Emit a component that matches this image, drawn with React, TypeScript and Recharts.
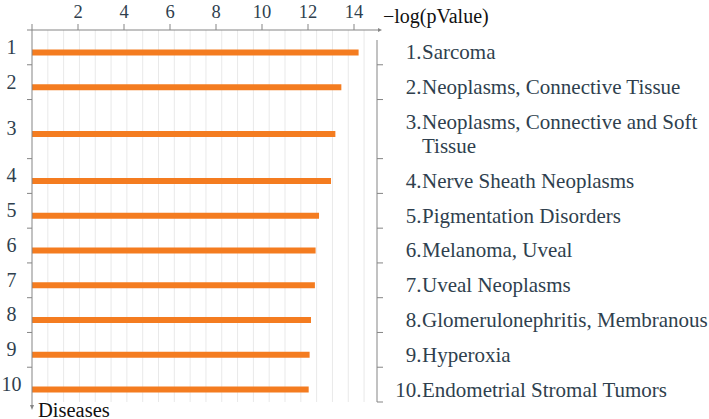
import React from 'react';
import { ComposedChart, Bar, XAxis, YAxis, CartesianGrid } from 'recharts';

// ranks shown on the left, disease names on the right (one entry per text line)
const ranks = ['1', '2', '3', '4', '5', '6', '7', '8', '9', '10'];
const diseaseLines = [
  ['Sarcoma'],
  ['Neoplasms, Connective Tissue'],
  ['Neoplasms, Connective and Soft', 'Tissue'],
  ['Nerve Sheath Neoplasms'],
  ['Pigmentation Disorders'],
  ['Melanoma, Uveal'],
  ['Uveal Neoplasms'],
  ['Glomerulonephritis, Membranous'],
  ['Hyperoxia'],
  ['Endometrial Stromal Tumors'],
];
const negLogP = [14.2, 13.45, 13.19, 13.0, 12.48, 12.33, 12.3, 12.13, 12.07, 12.03];
const xTicks = [0, 2, 4, 6, 8, 10, 12, 14];

const FONT = "'Liberation Serif', 'Times New Roman', 'DejaVu Serif', serif";
const TEXT = '#2f3f4e';
const AXIS = '#858585';
const EXTRA_LINE = 0.7; // a wrapped label adds this much row height

// rows grow when the label on the right wraps
let cum = 0;
const rows = diseaseLines.map((lines, i) => {
  const h = 1 + EXTRA_LINE * (lines.length - 1);
  cum += h;
  return {
    rank: ranks[i],
    lines,
    value: negLogP[i],
    pos: cum - 0.345 - (EXTRA_LINE / 2) * (lines.length - 1),
    end: cum,
  };
});
const total = cum;
const boundaries = rows.map(r => r.end);
const centers = rows.map(r => r.pos);
const yTicks = [...boundaries, ...centers];

const gridValues = Array.from({ length: 21 }, (_, i) => (i + 1) * 0.6875);

const txt = (size: number, color: string) => ({ fontFamily: FONT, fontSize: size, fill: color });

const TopTick = (props: any) => {
  const { x, y, payload } = props;
  if (payload.value === 0) return null;
  return (
    <text x={x} y={y - 6.5} textAnchor="middle" style={txt(18.5, TEXT)}>
      {payload.value}
    </text>
  );
};

const LeftTick = (props: any) => {
  const { x, y, payload } = props;
  const v = payload.value;
  if (boundaries.includes(v)) {
    if (v === total) return null;
    return <line x1={x} y1={y} x2={x + 5} y2={y} stroke={AXIS} strokeWidth={1} />;
  }
  const row = rows.find(r => r.pos === v);
  return (
    <text x={11.5} y={y + 1} textAnchor="middle" style={txt(20, TEXT)}>
      {row?.rank}
    </text>
  );
};

const RightTick = (props: any) => {
  const { x, y, payload } = props;
  const v = payload.value;
  if (boundaries.includes(v)) {
    return <line x1={x - 6} y1={y} x2={x} y2={y} stroke={AXIS} strokeWidth={1} />;
  }
  const row = rows.find(r => r.pos === v);
  if (!row) return null;
  const n = row.lines.length;
  return (
    <g>
      <text x={x + 38.5} y={y + 6.5 - ((n - 1) / 2) * 24} textAnchor="end" style={txt(21, TEXT)}>
        {row.rank + '.'}
      </text>
      {row.lines.map((t, j) => (
        <text key={j} x={x + 39} y={y + 6.5 + (j - (n - 1) / 2) * 24} textAnchor="start" style={txt(21, TEXT)}>
          {t}
        </text>
      ))}
    </g>
  );
};

const XArrow = (props: any) => {
  const { x, y, width, height } = props.viewBox;
  const ay = y + height;
  const end = x + width;
  return (
    <g>
      <line x1={x - 5} y1={ay} x2={x} y2={ay} stroke={AXIS} />
      <line x1={end} y1={ay} x2={end + 1} y2={ay} stroke={AXIS} />
      <polygon points={`${end + 1},${ay - 2} ${end + 5},${ay} ${end + 1},${ay + 2}`} fill={AXIS} />
      <text x={end + 6} y={23} style={txt(20, '#111')}>
        −log(pValue)
      </text>
    </g>
  );
};

const YArrow = (props: any) => {
  const { x, y, width, height } = props.viewBox;
  const ax = x + width;
  const bottom = y + height;
  return (
    <g>
      <line x1={ax} y1={bottom} x2={ax} y2={bottom + 3} stroke={AXIS} />
      <polygon points={`${ax - 2},${bottom + 3} ${ax + 2},${bottom + 3} ${ax},${bottom + 8}`} fill={AXIS} />
      <text x={ax + 6} y={416.5} style={txt(20.5, '#111')}>
        Diseases
      </text>
    </g>
  );
};

export default function App() {
  return (
    <div style={{ position: 'absolute', left: 0, top: 0, background: '#fff' }}>
      <ComposedChart
        width={709}
        height={419}
        data={rows}
        layout="vertical"
        margin={{ top: 0, right: 0, bottom: 17, left: 0 }}
      >
        <CartesianGrid horizontal={false} vertical verticalValues={gridValues} stroke="#e9e9e9" />
        <XAxis
          type="number"
          dataKey="value"
          orientation="top"
          domain={[0, 15]}
          ticks={xTicks}
          interval={0}
          height={30}
          tickSize={6}
          tickMargin={0}
          stroke={AXIS}
          tick={<TopTick />}
          label={{ content: XArrow }}
        />
        <YAxis
          yAxisId="left"
          type="number"
          dataKey="pos"
          domain={[0, total]}
          ticks={yTicks}
          interval={0}
          width={32}
          tickSize={5}
          tickMargin={0}
          tickLine={false}
          stroke={AXIS}
          tick={<LeftTick />}
          label={{ content: YArrow }}
        />
        <YAxis
          yAxisId="right"
          orientation="right"
          type="number"
          dataKey="pos"
          domain={[0, total]}
          ticks={yTicks}
          interval={0}
          width={332}
          tickSize={6}
          tickMargin={0}
          tickLine={false}
          axisLine={{ stroke: AXIS, strokeDasharray: '0 10 1000' }}
          tick={<RightTick />}
        />
        <Bar yAxisId="left" dataKey="value" fill="#f47c20" barSize={6} isAnimationActive={false} />
      </ComposedChart>
    </div>
  );
}
